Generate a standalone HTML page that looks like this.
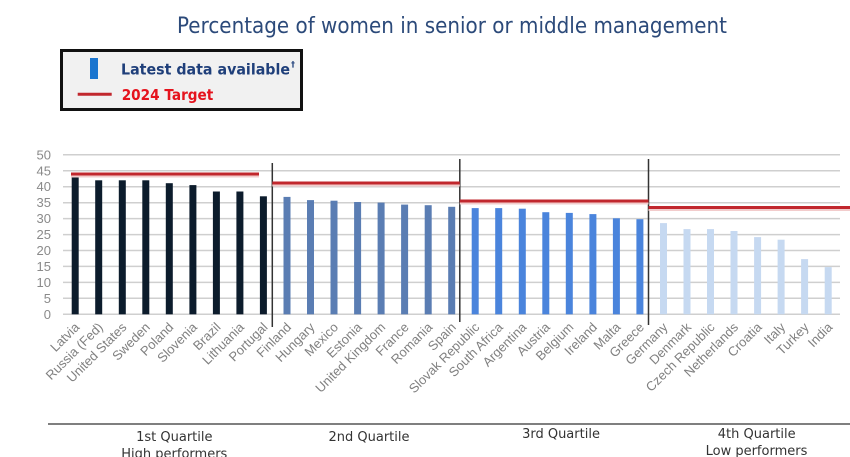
<!DOCTYPE html>
<html>
<head>
<meta charset="utf-8">
<style>
  html, body { margin:0; padding:0; background:#ffffff; }
  body { width:850px; height:457px; overflow:hidden; }
  svg { display:block; }
</style>
</head>
<body>
<svg width="850" height="457" viewBox="0 0 850 457" xmlns="http://www.w3.org/2000/svg">
  <rect x="0" y="0" width="850" height="457" fill="#ffffff"/>

  <!-- Title -->
  <text x="177" y="33" font-family="DejaVu Sans, Liberation Sans, sans-serif" font-size="22" fill="#2c4a7a" textLength="550" lengthAdjust="spacingAndGlyphs">Percentage of women in senior or middle management</text>

  <!-- Legend -->
  <rect x="61.5" y="50.5" width="240" height="59" fill="#f1f1f1" stroke="#111111" stroke-width="3"/>
  <rect x="90" y="58" width="8" height="21" fill="#1a75cf"/>
  <text x="121" y="74.3" font-family="DejaVu Sans, Liberation Sans, sans-serif" font-weight="bold" font-size="15" fill="#1f3f7a" textLength="169" lengthAdjust="spacingAndGlyphs">Latest data available</text>
  <text x="291" y="67" font-family="DejaVu Sans, Liberation Sans, sans-serif" font-weight="bold" font-size="8" fill="#1f3f7a">†</text>
  <line x1="77.7" y1="94.3" x2="111.7" y2="94.3" stroke="#c1272d" stroke-width="3"/>
  <text x="121.7" y="100" font-family="DejaVu Sans, Liberation Sans, sans-serif" font-weight="bold" font-size="15" fill="#e5131d" textLength="91.6" lengthAdjust="spacingAndGlyphs">2024 Target</text>

  <!-- Gridlines -->
  <g stroke="#cfcfcf" stroke-width="1.5">
    <line x1="63" y1="154.8" x2="840" y2="154.8"/>
    <line x1="63" y1="170.8" x2="840" y2="170.8"/>
    <line x1="63" y1="186.7" x2="840" y2="186.7"/>
    <line x1="63" y1="202.7" x2="840" y2="202.7"/>
    <line x1="63" y1="218.6" x2="840" y2="218.6"/>
    <line x1="63" y1="234.6" x2="840" y2="234.6"/>
    <line x1="63" y1="250.5" x2="840" y2="250.5"/>
    <line x1="63" y1="266.4" x2="840" y2="266.4"/>
    <line x1="63" y1="282.4" x2="840" y2="282.4"/>
    <line x1="63" y1="298.3" x2="840" y2="298.3"/>
    <line x1="63" y1="314.3" x2="840" y2="314.3"/>
  </g>

  <!-- Y labels -->
  <g font-family="Liberation Sans, Arial, sans-serif" font-size="13" fill="#8a8a8a" text-anchor="end">
    <text x="51" y="159.3">50</text>
    <text x="51" y="175.3">45</text>
    <text x="51" y="191.2">40</text>
    <text x="51" y="207.2">35</text>
    <text x="51" y="223.1">30</text>
    <text x="51" y="239.1">25</text>
    <text x="51" y="255">20</text>
    <text x="51" y="270.9">15</text>
    <text x="51" y="286.9">10</text>
    <text x="51" y="302.8">5</text>
    <text x="51" y="318.8">0</text>
  </g>

  <!-- Bars Q1 -->
  <g fill="#0c1c2c">
    <rect x="71.7" y="173.9" width="7" height="140.4"/>
    <rect x="95.2" y="180.3" width="7" height="134"/>
    <rect x="118.8" y="180.3" width="7" height="134"/>
    <rect x="142.3" y="180.3" width="7" height="134"/>
    <rect x="165.8" y="183.2" width="7" height="131.1"/>
    <rect x="189.4" y="185.1" width="7" height="129.2"/>
    <rect x="212.9" y="191.5" width="7" height="122.8"/>
    <rect x="236.4" y="191.5" width="7" height="122.8"/>
    <rect x="259.9" y="196.3" width="7" height="118"/>
  </g>
  <!-- Bars Q2 -->
  <g fill="#5a7db3">
    <rect x="283.5" y="196.9" width="7" height="117.4"/>
    <rect x="307" y="200.1" width="7" height="114.2"/>
    <rect x="330.5" y="200.7" width="7" height="113.6"/>
    <rect x="354.1" y="202" width="7" height="112.3"/>
    <rect x="377.6" y="202.6" width="7" height="111.7"/>
    <rect x="401.1" y="204.6" width="7" height="109.7"/>
    <rect x="424.7" y="205.2" width="7" height="109.1"/>
    <rect x="448.2" y="206.8" width="7" height="107.5"/>
  </g>
  <!-- Bars Q3 -->
  <g fill="#4a84dc">
    <rect x="471.7" y="208.1" width="7" height="106.2"/>
    <rect x="495.2" y="208.1" width="7" height="106.2"/>
    <rect x="518.8" y="208.7" width="7" height="105.6"/>
    <rect x="542.3" y="212.2" width="7" height="102.1"/>
    <rect x="565.8" y="212.9" width="7" height="101.4"/>
    <rect x="589.4" y="214.1" width="7" height="100.2"/>
    <rect x="612.9" y="218.3" width="7" height="96"/>
    <rect x="636.4" y="219.2" width="7" height="95.1"/>
  </g>
  <!-- Bars Q4 -->
  <g fill="#c6d9f1">
    <rect x="660" y="223.1" width="7" height="91.2"/>
    <rect x="683.5" y="229.1" width="7" height="85.2"/>
    <rect x="707" y="229.1" width="7" height="85.2"/>
    <rect x="730.5" y="231" width="7" height="83.3"/>
    <rect x="754.1" y="237.1" width="7" height="77.2"/>
    <rect x="777.6" y="239.7" width="7" height="74.6"/>
    <rect x="801.1" y="259.1" width="7" height="55.2"/>
    <rect x="824.7" y="267.1" width="7" height="47.2"/>
  </g>

  <!-- Quartile dividers -->
  <g stroke="#333333" stroke-width="1.5">
    <line x1="272.3" y1="163" x2="272.3" y2="327"/>
    <line x1="459.8" y1="159" x2="459.8" y2="322"/>
    <line x1="648.5" y1="159" x2="648.5" y2="325"/>
  </g>

  <!-- Target lines -->
  <g stroke="#f2cccc" stroke-width="2">
    <line x1="71" y1="176.5" x2="259" y2="176.5"/>
    <line x1="272.3" y1="185.5" x2="459.8" y2="185.5"/>
    <line x1="459.8" y1="203.5" x2="648.5" y2="203.5"/>
    <line x1="648.5" y1="210" x2="850" y2="210"/>
  </g>
  <g stroke="#c1272d" stroke-width="3">
    <line x1="71" y1="174" x2="259" y2="174"/>
    <line x1="272.3" y1="183" x2="459.8" y2="183"/>
    <line x1="459.8" y1="201" x2="648.5" y2="201"/>
    <line x1="648.5" y1="207.5" x2="850" y2="207.5"/>
  </g>

  <!-- Country labels -->
  <g font-family="Liberation Sans, Arial, sans-serif" font-size="13" fill="#808080" text-anchor="end">
    <text transform="translate(80.2,328) rotate(-45)">Latvia</text>
    <text transform="translate(103.7,328) rotate(-45)">Russia (Fed)</text>
    <text transform="translate(127.3,328) rotate(-45)">United States</text>
    <text transform="translate(150.8,328) rotate(-45)">Sweden</text>
    <text transform="translate(174.3,328) rotate(-45)">Poland</text>
    <text transform="translate(197.9,328) rotate(-45)">Slovenia</text>
    <text transform="translate(221.4,328) rotate(-45)">Brazil</text>
    <text transform="translate(244.9,328) rotate(-45)">Lithuania</text>
    <text transform="translate(268.4,328) rotate(-45)">Portugal</text>
    <text transform="translate(292,328) rotate(-45)">Finland</text>
    <text transform="translate(315.5,328) rotate(-45)">Hungary</text>
    <text transform="translate(339,328) rotate(-45)">Mexico</text>
    <text transform="translate(362.6,328) rotate(-45)">Estonia</text>
    <text transform="translate(386.1,328) rotate(-45)">United Kingdom</text>
    <text transform="translate(409.6,328) rotate(-45)">France</text>
    <text transform="translate(433.2,328) rotate(-45)">Romania</text>
    <text transform="translate(456.7,328) rotate(-45)">Spain</text>
    <text transform="translate(480.2,328) rotate(-45)">Slovak Republic</text>
    <text transform="translate(503.7,328) rotate(-45)">South Africa</text>
    <text transform="translate(527.3,328) rotate(-45)">Argentina</text>
    <text transform="translate(550.8,328) rotate(-45)">Austria</text>
    <text transform="translate(574.3,328) rotate(-45)">Belgium</text>
    <text transform="translate(597.9,328) rotate(-45)">Ireland</text>
    <text transform="translate(621.4,328) rotate(-45)">Malta</text>
    <text transform="translate(644.9,328) rotate(-45)">Greece</text>
    <text transform="translate(668.5,328) rotate(-45)">Germany</text>
    <text transform="translate(692,328) rotate(-45)">Denmark</text>
    <text transform="translate(715.5,328) rotate(-45)">Czech Republic</text>
    <text transform="translate(739,328) rotate(-45)">Netherlands</text>
    <text transform="translate(762.6,328) rotate(-45)">Croatia</text>
    <text transform="translate(786.1,328) rotate(-45)">Italy</text>
    <text transform="translate(809.6,328) rotate(-45)">Turkey</text>
    <text transform="translate(833.2,328) rotate(-45)">India</text>
  </g>

  <!-- Bottom axis line -->
  <line x1="48" y1="424" x2="850" y2="424" stroke="#555555" stroke-width="1.5"/>

  <!-- Quartile labels -->
  <g font-family="DejaVu Sans, Liberation Sans, sans-serif" font-size="13" fill="#333333" text-anchor="middle">
    <text x="174.3" y="441">1st Quartile</text>
    <text x="174.3" y="458">High performers</text>
    <text x="369" y="441">2nd Quartile</text>
    <text x="561" y="438">3rd Quartile</text>
    <text x="756.7" y="438">4th Quartile</text>
    <text x="756.5" y="455">Low performers</text>
  </g>
</svg>
</body>
</html>
